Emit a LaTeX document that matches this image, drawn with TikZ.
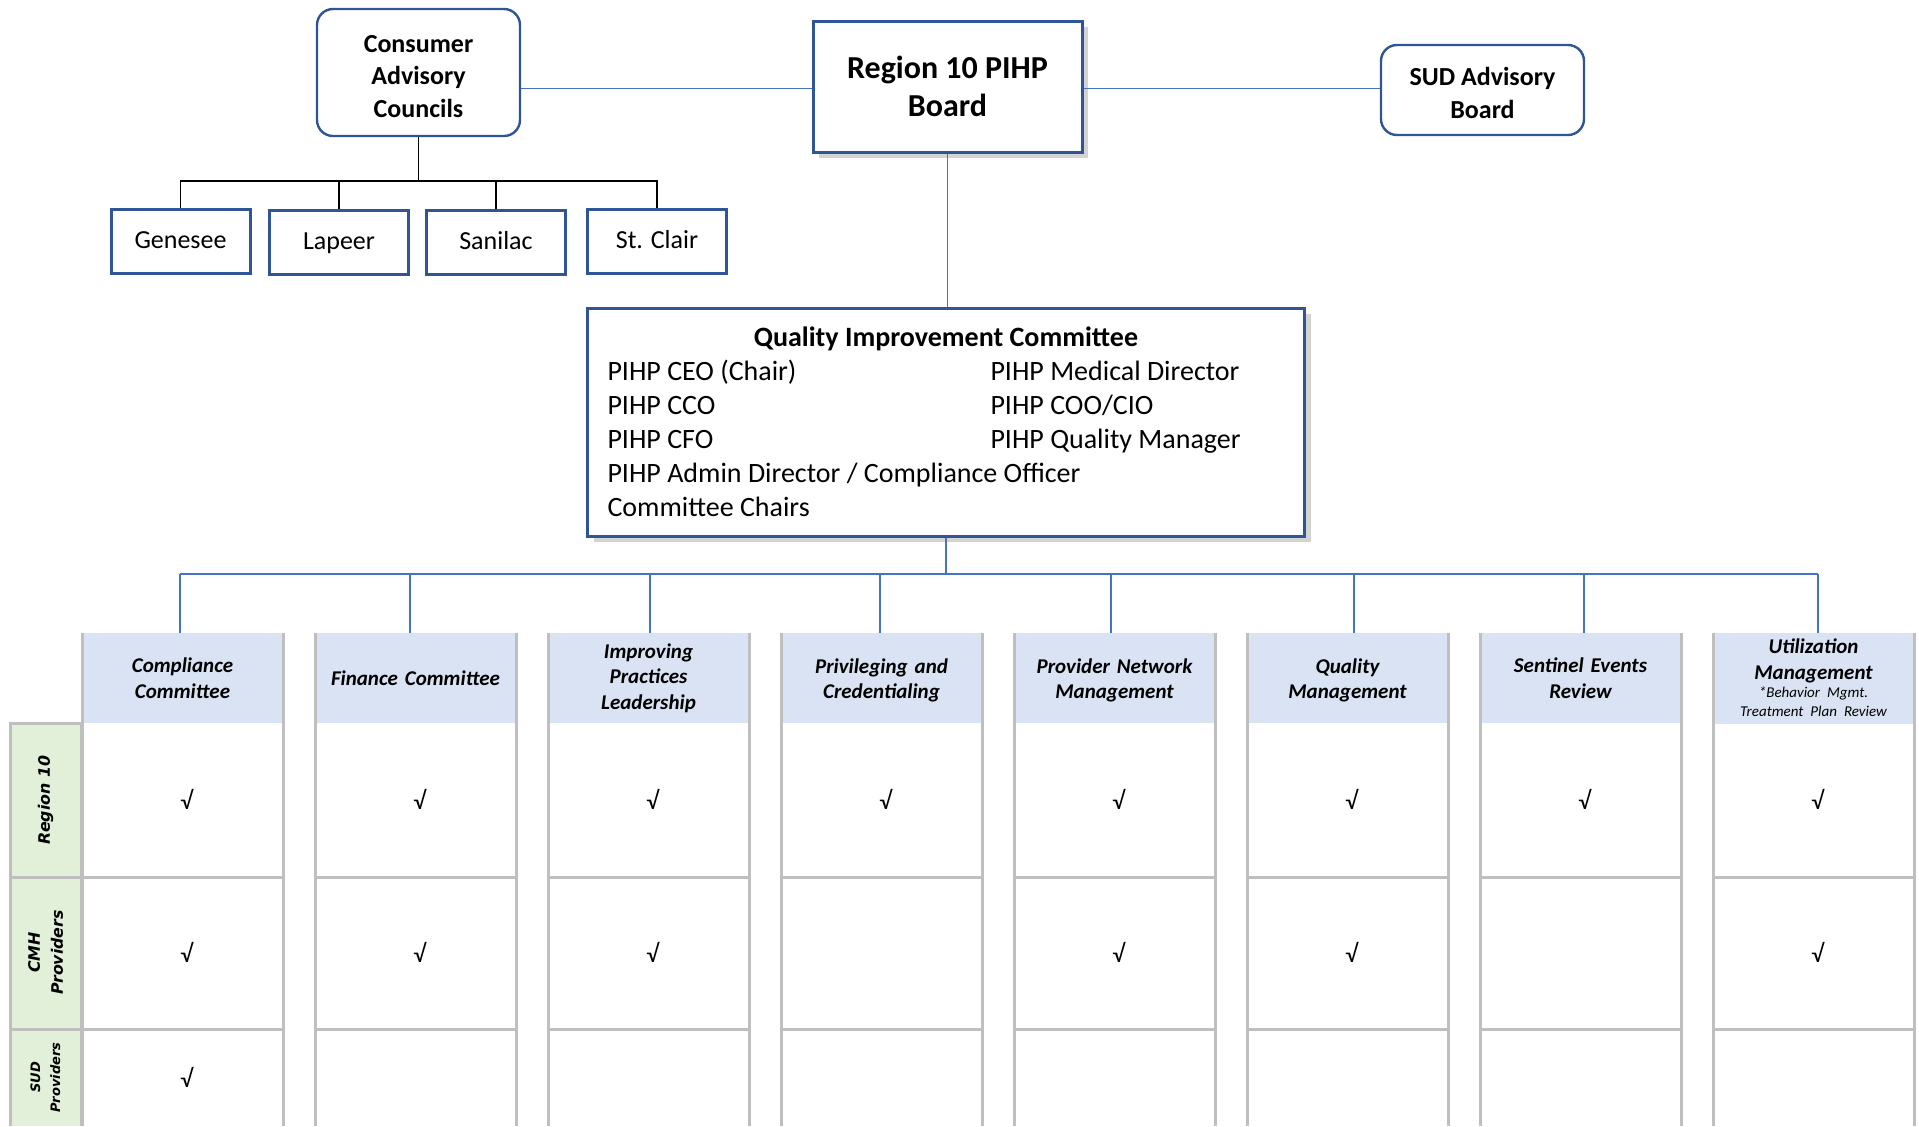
\documentclass[tikz,border=0pt]{standalone}
\usepackage{fontspec}
\setmainfont{Carlito}
\newfontfamily\verdfont{DejaVu Sans}
\usetikzlibrary{shadows}
\definecolor{boxblue}{RGB}{47,85,151}
\definecolor{linkblue}{RGB}{68,114,196}
\definecolor{hdrblue}{RGB}{218,227,243}
\definecolor{rowgreen}{RGB}{226,239,217}
\definecolor{gridgrey}{RGB}{191,191,191}
\newcommand{\subnote}[1]{{\fontsize{7.5}{9}\selectfont\mdseries #1}}
\tikzset{
	boardbox/.style={draw=boxblue, line width=1.5pt, fill=white, align=center, font=\fontsize{16}{19}\selectfont\bfseries, minimum width=134.5pt, minimum height=65.5pt, drop shadow={opacity=0.35, shadow xshift=3pt, shadow yshift=-3pt}},
	advbox/.style={draw=boxblue, line width=1.2pt, rounded corners=8pt, fill=white, align=center, font=\fontsize{13}{16.25}\selectfont\bfseries, minimum width=101.5pt},
	countybox/.style={draw=boxblue, line width=1.5pt, minimum width=69.5pt, minimum height=32pt, text height=9.5pt, text depth=2.5pt, font=\fontsize{13}{16}\selectfont},
	qicbox/.style={draw=boxblue, line width=1.5pt, fill=white, inner xsep=10pt, inner ysep=4pt, minimum height=114pt, font=\fontsize{14}{17}\selectfont, drop shadow={opacity=0.35, shadow xshift=3pt, shadow yshift=-3pt}},
	link/.style={draw=linkblue, line width=0.9pt},
	tree/.style={draw=black, line width=0.7pt},
	grid/.style={draw=gridgrey, line width=1.5pt},
	hdr/.style={fill=hdrblue, text width=95pt, inner xsep=2.75pt, minimum height=45pt, align=center, font=\fontsize{10.5}{12.8}\selectfont\bfseries\itshape},
	rowlbl/.style={rotate=90, align=center, font=\verdfont\fontsize{7.9}{11.5}\selectfont\bfseries\itshape},
	tick/.style={font=\fontsize{12.5}{14}\selectfont, inner sep=0pt},
}
\begin{document}
\begin{tikzpicture}[x=0.5pt,y=-0.5pt]
	\useasboundingbox (0,0) rectangle (1919,1126);
	
	% top of the chart
	\node[boardbox] (board) at (947.5,86.5) {Region 10 PIHP\\Board};
	\node[advbox, minimum height=63.5pt] (cac) at (418.5,72.5) {\rule{0pt}{12.5pt}Consumer\\Advisory\\Councils};
	\node[advbox, minimum height=45pt, font=\fontsize{13}{16.5}\selectfont\bfseries] (sud) at (1482.5,90) {\rule{0pt}{12.5pt}SUD Advisory\\Board};
	\coordinate (bw) at ([yshift=-1pt]board.west);
	\coordinate (be) at ([yshift=-1pt]board.east);
	\draw[link] (bw) -- (cac.east |- bw);
	\draw[link] (be) -- (sud.west |- be);
	
	% counties under the councils
	\node[countybox] (gen) at (180.5,241) {Genesee};
	\node[countybox] (lap) at (339,242.5) {Lapeer};
	\node[countybox] (san) at (496,242.5) {Sanilac};
	\node[countybox] (stc) at (657,241) {St. Clair};
	\coordinate (cj) at (418.5,181);
	\draw[tree] (cac.south) -- (cj);
	\draw[tree] (gen.north) |- (cj) -| (stc.north);
	\draw[tree] (lap.north) -- (lap.north |- cj);
	\draw[tree] (san.north) -- (san.north |- cj);
	
	% quality improvement committee
	\node[qicbox] (qic) at (946,422) {\begin{tabular}{@{}p{191.5pt}@{}p{147pt}@{}}
		\multicolumn{2}{@{}c@{}}{\rule{0pt}{15pt}\bfseries Quality Improvement Committee}\\
		PIHP CEO (Chair) & PIHP Medical Director\\
		PIHP CCO & PIHP COO/CIO\\
		PIHP CFO & PIHP Quality Manager\\
		\multicolumn{2}{@{}l@{}}{PIHP Admin Director / Compliance Officer}\\
		\multicolumn{2}{@{}l@{}}{Committee Chairs}
	\end{tabular}};
	\draw[link] (board.south) -- (board.south |- qic.north);
	\coordinate (bus) at (946,574);
	\draw[link] (qic.south) -- (bus);
	
	% row labels
	\fill[rowgreen] (10,723) rectangle (81,1126);
	\node[rowlbl] (r1) at (45.5,800) {Region 10};
	\node[rowlbl] (r2) at (45.5,952.5) {CMH\\Providers};
	\node[rowlbl, font=\verdfont\fontsize{6.5}{10}\selectfont\bfseries\itshape] (r3) at (45.5,1077.5) {SUD\\Providers};
	\draw[grid] (10,1126) -- (10,723) -- (81,723) -- (81,1126) (10,877) -- (81,877) (10,1029) -- (81,1029);
	
	% committee columns
	\foreach \i/\dx/\txt in {1/-2.5/{Compliance\\Committee},2/-5.5/{Finance Committee},3/1.5/{Improving\\Practices\\Leadership},4/-1.5/{\rule{0pt}{9.6pt}Privileging and\\Credentialing},5/-3.5/{\rule{0pt}{9.6pt}Provider Network\\Management},6/6.5/{\rule{0pt}{9.6pt}Quality\\Management},7/3.5/{Sentinel Events\\Review},8/4.5/{Utilization\\Management\\[-4pt]\subnote{*Behavior Mgmt.}\\[-3pt]\subnote{Treatment Plan Review}}}{
		\pgfmathsetmacro{\xl}{82+233*(\i-1)}
		\node[hdr] (h\i) at (\xl+100.5,678) {\txt};
		\coordinate (d\i) at (\xl+100.5+\dx,633);
		\draw[grid] (\xl,633) -- (\xl,1126) (\xl+201,633) -- (\xl+201,1126)
			(\xl,877) -- (\xl+201,877) (\xl,1029) -- (\xl+201,1029);
	}
	\draw[link] (d1 |- bus) -- (d8 |- bus);
	\foreach \i in {1,...,8}
		\draw[link] (d\i |- bus) -- (d\i);
	
	% check marks
	\foreach \r/\yr/\cols in {1/799/{1,2,3,4,5,6,7,8},2/952/{1,2,3,5,6,8},3/1077/{1}}{
		\foreach \c in \cols{
			\pgfmathsetmacro{\xc}{82+233*(\c-1)+104.5}
			\node[tick] (ck\c\r) at (\xc,\yr) {√};
		}
	}
\end{tikzpicture}
\end{document}
